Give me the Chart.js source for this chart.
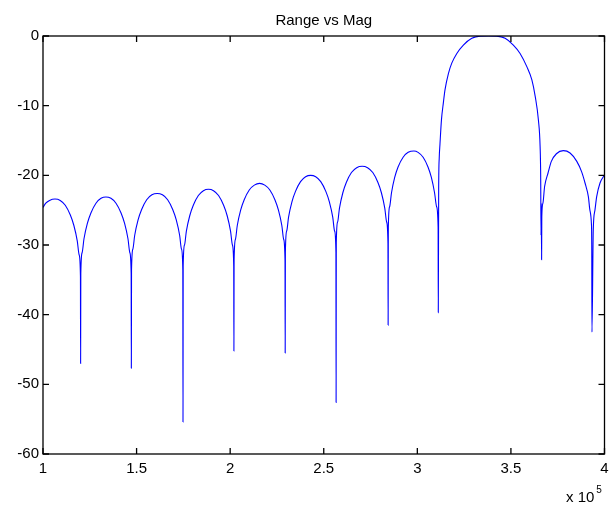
<!DOCTYPE html>
<html><head><meta charset="utf-8">
<script src="https://cdn.jsdelivr.net/npm/chart.js@4.4.0/dist/chart.umd.min.js"></script>
<style>html,body{margin:0;padding:0;background:#fff;}#wrap{width:610px;height:505px;position:relative;}</style>
</head><body><div id="wrap"><canvas id="c" width="610" height="505"></canvas></div>
<script>
const titleText = 'Range vs Mag';
const xExponentBase = 'x 10';
const xExponent = '5';
const xTickValues = [1, 1.5, 2, 2.5, 3, 3.5, 4];
const yTickValues = [-60, -50, -40, -30, -20, -10, 0];

// Range (x 10^5) and magnitude (dB)
const range = [
 1.000,1.015,1.035,1.064,1.092,1.119,1.146,1.165,1.183,1.193,1.200,1.201,
 1.202,1.209,1.219,1.237,1.256,1.283,1.310,1.336,1.363,1.390,1.417,1.436,1.454,1.464,1.471,1.472,
 1.473,1.480,1.490,1.508,1.527,1.554,1.582,1.610,1.638,1.666,1.693,1.712,1.730,1.740,1.747,1.748,
 1.749,1.756,1.766,1.784,1.803,1.830,1.857,1.884,1.911,1.938,1.965,1.984,2.002,2.012,2.019,2.020,
 2.021,2.028,2.038,2.056,2.075,2.102,2.129,2.157,2.185,2.212,2.239,2.258,2.276,2.286,2.293,2.294,
 2.295,2.302,2.312,2.330,2.349,2.376,2.403,2.430,2.457,2.484,2.511,2.530,2.548,2.558,2.565,2.566,
 2.567,2.574,2.584,2.602,2.621,2.648,2.676,2.705,2.734,2.762,2.789,2.808,2.826,2.836,2.843,2.844,
 2.845,2.852,2.862,2.879,2.897,2.924,2.951,2.982,3.004,3.031,3.057,3.075,3.092,3.103,3.111,3.112,
 3.114,3.117,3.121,3.129,3.139,3.148,3.166,3.184,3.211,3.246,3.291,3.335,3.380,3.424,3.469,3.513,
 3.549,3.585,3.612,3.630,3.647,3.656,3.659,3.661,3.662,3.664,
 3.665,3.671,3.680,3.698,3.716,3.743,3.780,3.816,3.852,3.878,3.896,3.914,3.922,3.930,3.932,3.933,
 3.940,3.949,3.958,3.976,4.000
];
const magDb = [
 -24.6,-24.0,-23.6,-23.4,-23.6,-24.3,-25.7,-27.2,-29.4,-31.4,-34.4,-47.0,
 -34.1,-31.1,-29.1,-26.9,-25.4,-24.0,-23.3,-23.1,-23.3,-24.0,-25.4,-26.9,-29.1,-31.1,-34.1,-47.7,
 -33.6,-30.6,-28.6,-26.4,-24.9,-23.5,-22.8,-22.6,-22.8,-23.5,-24.9,-26.4,-28.6,-30.6,-33.6,-55.4,
 -33.0,-30.0,-28.0,-25.8,-24.3,-22.9,-22.2,-22.0,-22.2,-22.9,-24.3,-25.8,-28.0,-30.0,-33.0,-45.2,
 -32.2,-29.2,-27.2,-25.0,-23.5,-22.1,-21.4,-21.15,-21.4,-22.1,-23.5,-25.0,-27.2,-29.2,-32.2,-45.5,
 -31.0,-28.0,-26.0,-23.8,-22.3,-20.9,-20.2,-20.0,-20.2,-20.9,-22.3,-23.8,-26.0,-28.0,-31.0,-52.6,
 -29.7,-26.7,-24.7,-22.5,-21.0,-19.6,-18.9,-18.7,-18.9,-19.6,-21.0,-22.5,-24.7,-26.7,-29.7,-41.5,
 -27.5,-24.5,-22.5,-20.3,-18.8,-17.4,-16.7,-16.5,-16.7,-17.4,-18.8,-20.3,-22.5,-24.5,-27.5,-39.7,
 -22.0,-17.5,-15.5,-12.0,-9.6,-7.7,-5.4,-3.9,-2.5,-1.3,-0.33,-0.02,0,-0.02,-0.33,-1.3,
 -2.5,-4.4,-6.3,-8.7,-12.1,-15.9,-20.0,-28.6,-24.0,-32.1,
 -25.9,-24.0,-21.6,-19.7,-18.0,-16.9,-16.46,-16.8,-18.0,-19.5,-21.1,-23.1,-25.0,-26.9,-30.7,-42.5,
 -27.8,-25.0,-23.1,-21.1,-19.95
];

const FONT = 'Liberation Sans, Arial, Helvetica, sans-serif';

const framePlugin = {
  id: 'matlabFrame',
  afterDraw(chart) {
    const ctx = chart.ctx;
    const a = chart.chartArea;
    const xs = chart.scales.x, ys = chart.scales.y;
    ctx.save();
    ctx.strokeStyle = '#000';
    ctx.lineWidth = 1.3;
    ctx.strokeRect(a.left, a.top, a.right - a.left, a.bottom - a.top);
    const tl = 6;
    ctx.beginPath();
    xTickValues.forEach(v => {
      const px = xs.getPixelForValue(v);
      ctx.moveTo(px, a.bottom); ctx.lineTo(px, a.bottom - tl);
      ctx.moveTo(px, a.top); ctx.lineTo(px, a.top + tl);
    });
    yTickValues.forEach(v => {
      const py = ys.getPixelForValue(v);
      ctx.moveTo(a.left, py); ctx.lineTo(a.left + tl, py);
      ctx.moveTo(a.right, py); ctx.lineTo(a.right - tl, py);
    });
    ctx.stroke();
    ctx.fillStyle = '#000';
    ctx.font = '15px ' + FONT;
    ctx.textAlign = 'center';
    ctx.textBaseline = 'alphabetic';
    ctx.fillText(titleText, (a.left + a.right) / 2, 25);
    ctx.font = '15px ' + FONT;
    ctx.textAlign = 'left';
    ctx.fillText(xExponentBase, 566, 502);
    const w = ctx.measureText(xExponentBase).width;
    ctx.font = '10px ' + FONT;
    ctx.fillText(xExponent, 566 + w + 2, 493);
    ctx.restore();
  }
};

new Chart(document.getElementById('c'), {
  type: 'line',
  data: {
    datasets: [{
      data: range.map((x, i) => ({ x: x, y: magDb[i] })),
      borderColor: '#0000ff',
      borderWidth: 1.1,
      pointRadius: 0,
      fill: false,
      cubicInterpolationMode: 'monotone'
    }]
  },
  options: {
    responsive: false,
    animation: false,
    devicePixelRatio: 1,
    layout: { padding: { left: 0, right: 0, top: 36, bottom: 0 } },
    plugins: { legend: { display: false }, title: { display: false }, tooltip: { enabled: false } },
    scales: {
      x: {
        type: 'linear', min: 1, max: 4,
        afterBuildTicks: s => { s.ticks = xTickValues.map(v => ({ value: v })); },
        afterFit: s => { s.height = 51; s.paddingRight = 5.5; },
        grid: { display: false, drawTicks: false },
        border: { display: false },
        ticks: { color: '#000', font: { family: FONT, size: 15 }, padding: 6, maxRotation: 0, autoSkip: false,
                 callback: v => String(v) }
      },
      y: {
        type: 'linear', min: -60, max: 0,
        afterBuildTicks: s => { s.ticks = yTickValues.map(v => ({ value: v })); },
        afterFit: s => { s.width = 43; },
        grid: { display: false, drawTicks: false },
        border: { display: false },
        ticks: { color: '#000', font: { family: FONT, size: 15 }, padding: 4, autoSkip: false,
                 callback: v => String(v) }
      }
    }
  },
  plugins: [framePlugin]
});
</script>
</body></html>
